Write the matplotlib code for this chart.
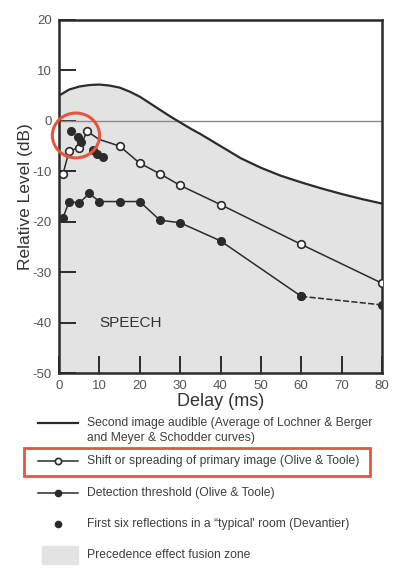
import numpy as np
import matplotlib
matplotlib.use("Agg")
import matplotlib.pyplot as plt
from matplotlib.lines import Line2D
from matplotlib.patches import Rectangle, Ellipse

plt.rcParams['font.family'] = ['Liberation Sans', 'DejaVu Sans']
plt.rcParams['axes.unicode_minus'] = False

# ---- data ----
curve_x = [0, 2.5, 5, 7.5, 10, 12.5, 15, 17.5, 20, 22.5, 25, 27.5, 30, 32.5,
           35, 37.5, 40, 45, 50, 55, 60, 65, 70, 75, 80]
curve_y = [5.0, 6.2, 6.8, 7.1, 7.2, 7.0, 6.6, 5.8, 4.8, 3.5, 2.2, 0.9, -0.3, -1.5,
           -2.6, -3.8, -5.0, -7.4, -9.3, -10.9, -12.2, -13.4, -14.5, -15.5, -16.4]

shift_x = [1, 2.5, 5, 7, 10, 15, 20, 25, 30, 40, 60, 80]
shift_y = [-10.5, -6.0, -5.3, -2.1, -3.7, -5.0, -8.4, -10.5, -12.8, -16.6, -24.5, -32.2]
shift_marked = [0, 1, 2, 3, 5, 6, 7, 8, 9, 10, 11]

detect_x = [1, 2.5, 5, 7.5, 10, 15, 20, 25, 30, 40, 60, 80]
detect_y = [-19.2, -16.0, -16.3, -14.4, -16.0, -16.0, -16.0, -19.7, -20.2, -23.8, -34.8, -36.5]

refl_x = [3.0, 4.6, 5.4, 8.3, 9.5, 10.8]
refl_y = [-2.0, -3.3, -4.2, -5.8, -6.6, -7.1]

xticks = [0, 10, 20, 30, 40, 50, 60, 70, 80]
yticks = [-50, -40, -30, -20, -10, 0, 10, 20]

W, H = 396, 575
fig = plt.figure(figsize=(W / 100, H / 100), dpi=100)
L, R, T, B = 59, 382, 20, 373
ax = fig.add_axes([L / W, 1 - B / H, (R - L) / W, (B - T) / H])

dark = '#2b2b2b'
ax.fill_between(curve_x, curve_y, -50, color='#e3e3e3', zorder=1)
ax.plot(curve_x, curve_y, color=dark, lw=1.6, zorder=3)
ax.axhline(0, color='#8a8a8a', lw=1.0, zorder=2)

ms = 5.5
ax.plot(shift_x, shift_y, color=dark, lw=1.1, marker='o', ms=ms,
        mfc='white', mec=dark, mew=1.2, markevery=shift_marked, zorder=4)

ax.plot(detect_x[:-1], detect_y[:-1], color=dark, lw=1.1, marker='o', ms=ms,
        mfc=dark, mec=dark, zorder=4)
ax.plot(detect_x[-2:], detect_y[-2:], color=dark, lw=1.1, ls=(0, (4, 1.5)),
        marker='o', ms=ms, mfc=dark, mec=dark, zorder=4)

ax.plot(refl_x, refl_y, ls='none', marker='o', ms=ms, mfc=dark, mec=dark, zorder=5)

ax.add_patch(Ellipse((4.2, -2.9), 11.7, 8.9, fill=False, ec='#e8553f', lw=2.2,
                     clip_on=False, zorder=6))

ax.text(10, -40, 'SPEECH', fontsize=11, color='#333333', va='center', ha='left')

ax.set_xlim(0, 80)
ax.set_ylim(-50, 20)
ax.set_xticks(xticks)
ax.set_yticks(yticks)
ax.tick_params(direction='in', length=12, width=1.4, color=dark,
               labelsize=9.5, labelcolor='#555555', pad=5)
for s in ax.spines.values():
    s.set_linewidth(1.8)
    s.set_color(dark)
ax.set_xlabel('Delay (ms)', fontsize=13, color='#333333', labelpad=1)
ax.set_ylabel('Relative Level (dB)', fontsize=12.5, color='#333333', labelpad=0)

# ---- legend (manual) ----
def fx(px):
    return px / W

def fy(py):
    return 1 - py / H

tcol = '#3e3e3e'
fs = 8.75
tx = 87
entries = [
    (423, 'line', 'Second image audible (Average of Lochner & Berger\nand Meyer & Schodder curves)', 430.5),
    (461, 'open', 'Shift or spreading of primary image (Olive & Toole)', 461),
    (493, 'filled', 'Detection threshold (Olive & Toole)', 493),
    (524, 'dot', "First six reflections in a \u201ctypical' room (Devantier)", 524),
    (555, 'patch', 'Precedence effect fusion zone', 555),
]
for sy, kind, label, ty in entries:
    if kind in ('line', 'open', 'filled'):
        fig.add_artist(Line2D([fx(38), fx(78)], [fy(sy), fy(sy)], color=dark,
                              lw=1.6 if kind == 'line' else 1.1))
    if kind == 'open':
        fig.add_artist(Line2D([fx(58)], [fy(sy)], marker='o', ms=4.5, mfc='white',
                              mec=dark, mew=1.2, ls='none'))
    if kind in ('filled', 'dot'):
        fig.add_artist(Line2D([fx(58)], [fy(sy)], marker='o', ms=4.5, mfc=dark,
                              mec=dark, ls='none'))
    if kind == 'patch':
        fig.add_artist(Rectangle((fx(42), fy(564)), fx(36), 18 / H,
                                 color='#e3e3e3', transform=fig.transFigure))
    fig.text(fx(tx), fy(ty), label, fontsize=fs, color=tcol, va='center',
             ha='left', linespacing=1.25)

fig.add_artist(Rectangle((fx(24), fy(476)), fx(346), 28 / H, fill=False,
                         ec='#e8553f', lw=2.0, transform=fig.transFigure))

fig.savefig('out.png', dpi=100, facecolor='white')
